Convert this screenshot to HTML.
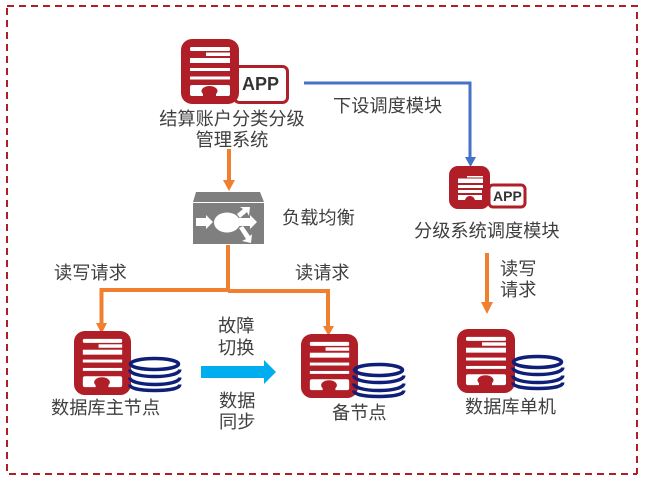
<!DOCTYPE html>
<html><head><meta charset="utf-8"><style>
html,body{margin:0;padding:0;background:#fff}
svg{display:block}
text{font-family:"Liberation Sans","Noto Sans CJK SC",sans-serif;font-size:18.2px;fill:#404040}
</style></head><body>
<svg width="645" height="483" viewBox="0 0 645 483" xmlns="http://www.w3.org/2000/svg">
<defs>
<g id="dev">
<rect x="0" y="0" width="58" height="65" rx="11" fill="#b01f27"/>
<rect x="9" y="8" width="40" height="4" rx="1.500" fill="#fff"/>
<rect x="25" y="13.500" width="24" height="3.500" fill="#fff"/>
<rect x="9" y="19" width="40" height="5" fill="#fff"/>
<rect x="9" y="29" width="40" height="3" fill="#fff"/>
<rect x="9" y="37.500" width="40" height="3" fill="#fff"/>
<rect x="9" y="46" width="40" height="11" rx="2" fill="#fff"/>
<ellipse cx="28.500" cy="52" rx="8" ry="5" fill="#b01f27"/>
<rect x="22" y="54" width="13" height="4" fill="#b01f27"/>
</g>
<g id="coins" fill="none" stroke="#0f1f78" stroke-width="3.500">
<path d="M1.800 12.500c0 4 10 7 25 7s25-3 25-7"/>
<path d="M1.800 20.500c0 4 10 7 25 7s25-3 25-7"/>
<path d="M1.800 27.500c0 4 10 6 25 6s25-2 25-6"/>
<ellipse cx="26.500" cy="7" rx="24" ry="5.500"/>
</g>
</defs>
<path d="M7 6H637V474" fill="none" stroke="#b01f27" stroke-width="2" stroke-dasharray="7 5"/>
<path d="M7 8V474H637" fill="none" stroke="#b01f27" stroke-width="2" stroke-dasharray="7 5"/>

<!-- top app -->
<rect x="234.500" y="66.500" width="53" height="36" rx="5" fill="#fff" stroke="#b01f27" stroke-width="3"/>
<use href="#dev" x="181" y="39"/>
<text x="242" y="90" style="font-size:18px;font-weight:bold;fill:#333">APP</text>
<text x="232" y="125" text-anchor="middle">结算账户分类分级</text>
<text x="232" y="146" text-anchor="middle">管理系统</text>

<!-- arrow top to LB -->
<rect x="227" y="149" width="4" height="32" fill="#f08030"/>
<polygon points="223,180 235,180 229,191" fill="#f08030"/>

<!-- LB -->
<polygon points="196,192 260,192 264,202 193,202" fill="#7f7f7f"/>
<rect x="193" y="203" width="71" height="41" fill="#7f7f7f"/>
<ellipse cx="227" cy="222.500" rx="13" ry="10" fill="#fff"/>
<polygon points="196,218 206,218 206,215 213,222 206,229 206,226 196,226" fill="#fff"/>
<polygon points="239,218 250,218 250,215 257,222 250,229 250,226 239,226" fill="#fff"/>
<polygon points="237,214 243,209 240,207 250,207 249,216 247,212 240,218" fill="#fff"/>
<polygon points="239,228 243,226 250,236 252,234 251,243 242,241 246,239" fill="#fff"/>
<text x="282" y="224">负载均衡</text>

<!-- orange branches -->
<path d="M228 245V291" fill="none" stroke="#f08030" stroke-width="4"/>
<path d="M228 290H101.500V324" fill="none" stroke="#f08030" stroke-width="4"/>
<path d="M228 291H328V327" fill="none" stroke="#f08030" stroke-width="4"/>
<polygon points="96,323 107,323 101.500,334" fill="#f08030"/>
<polygon points="323,326 334,326 328.500,336" fill="#f08030"/>
<text x="54" y="279">读写请求</text>
<text x="295" y="279">读请求</text>

<!-- db nodes -->
<use href="#dev" transform="translate(74 331) scale(.983 .985)"/>
<use href="#coins" x="128" y="357"/>
<text x="51" y="414">数据库主节点</text>

<use href="#dev" transform="translate(301 334) scale(.983 .985)"/>
<use href="#coins" x="352" y="363"/>
<text x="332" y="419">备节点</text>

<use href="#dev" transform="translate(457 329) scale(1 .985)"/>
<use href="#coins" x="511" y="355"/>
<text x="465" y="413">数据库单机</text>

<!-- failover -->
<text x="218" y="332">故障</text>
<text x="218" y="354">切换</text>
<polygon points="201,366 264,366 264,360 276,372 264,384 264,378 201,378" fill="#00aeef"/>
<text x="219" y="407">数据</text>
<text x="219" y="428">同步</text>

<!-- blue connector -->
<path d="M304 83H470V158" fill="none" stroke="#4472c4" stroke-width="3"/>
<polygon points="465,157 476,157 470.500,167" fill="#4472c4"/>
<text x="333" y="112">下设调度模块</text>

<!-- small app -->
<rect x="489" y="185" width="36" height="22" rx="4" fill="#fff" stroke="#b01f27" stroke-width="3"/>
<rect x="449" y="166" width="41" height="43" rx="9" fill="#b01f27"/>
<rect x="467" y="176" width="16" height="1.500" fill="#fff"/>
<rect x="458" y="178.500" width="25" height="4.500" fill="#fff"/>
<rect x="458" y="185" width="25" height="3" fill="#fff"/>
<rect x="458" y="190" width="24" height="3" fill="#fff"/>
<path d="M458 195H482V200H475C474 197 472 196 470 196C468 196 466 197 465 200H458Z" fill="#fff"/>
<text x="493" y="201" style="font-size:14px;font-weight:bold;fill:#333">APP</text>
<text x="414" y="237">分级系统调度模块</text>

<!-- orange right -->
<rect x="485" y="253" width="4" height="50" fill="#f08030"/>
<polygon points="481,302 493,302 487,314" fill="#f08030"/>
<text x="500" y="275">读写</text>
<text x="500" y="296">请求</text>
</svg>
</body></html>
